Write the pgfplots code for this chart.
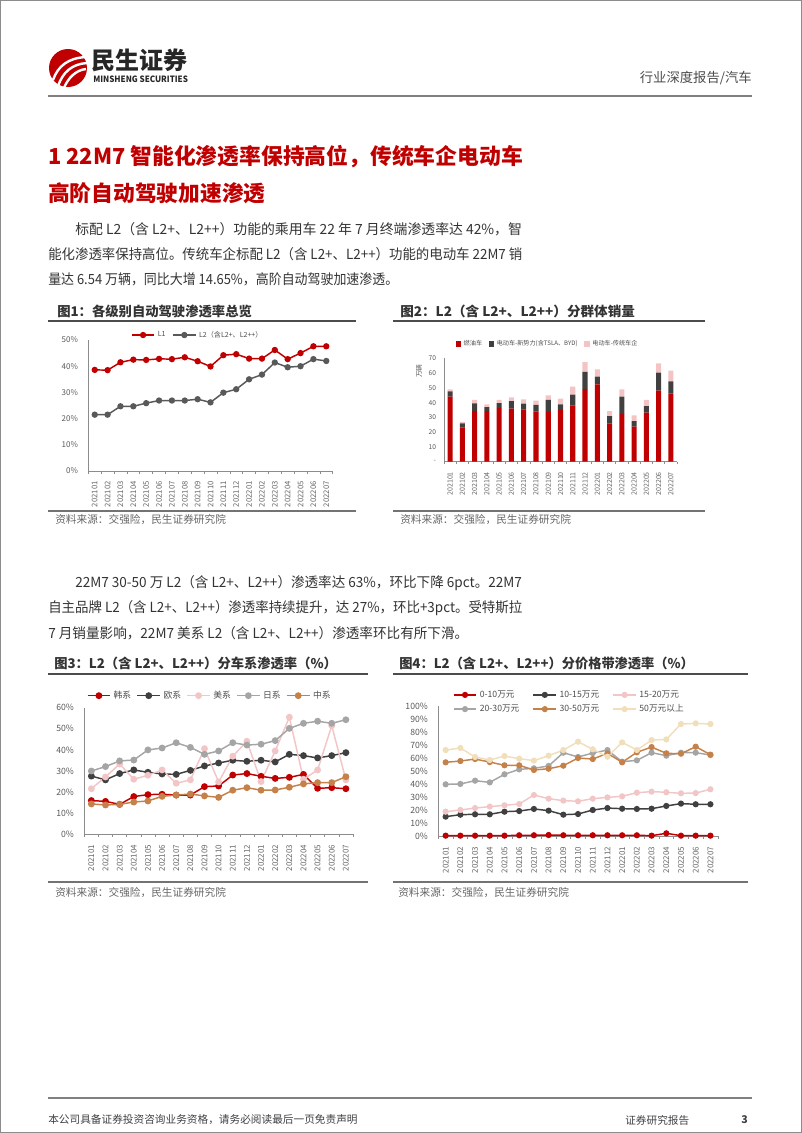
\documentclass[border=0pt]{standalone}
\usepackage{fontspec}
\setmainfont{Noto Sans CJK SC}
\usepackage{graphicx}
\usepackage{pgfplots}
\usepackage{pgfplotstable}
\pgfplotsset{compat=1.18}
\definecolor{tred}{HTML}{C00000}
\definecolor{dgray}{HTML}{404040}
\definecolor{mgray}{HTML}{595959}
\definecolor{lpink}{HTML}{F2C6C6}
\definecolor{bpink}{HTML}{F4C4C4}
\definecolor{lgray}{HTML}{A5A5A5}
\definecolor{brown}{HTML}{C5814A}
\definecolor{beige}{HTML}{F1DFBB}
\newcommand\fitw[2]{\resizebox{#1}{\height}{#2}}

\pgfplotstableread{
x fuel new trad
0 44.0 3.6 1.4
1 23.3 2.7 1.0
2 34.5 5.0 2.3
3 34.3 2.7 1.8
4 36.3 3.4 2.1
5 35.9 5.1 2.5
6 35.4 3.9 2.9
7 33.9 4.5 2.9
8 33.6 8.2 3.1
9 35.0 3.8 3.9
10 37.9 7.5 5.4
11 49.2 11.7 6.6
12 52.4 5.2 4.9
13 26.0 4.9 3.4
14 32.3 11.7 5.0
15 23.7 3.8 3.9
16 33.2 4.5 4.1
17 48.1 12.2 6.3
18 46.3 8.1 7.2
}\salestab

\pgfplotstableread{
x kr eu us jp cn
0 16.0 27.6 21.6 30.0 14.4
1 15.6 25.8 27.2 32.1 13.9
2 14.2 28.8 33.3 34.8 14.2
3 17.9 30.5 26.1 35.2 15.3
4 18.8 29.4 28.0 40.0 15.8
5 19.0 28.6 30.5 40.9 18.0
6 18.6 28.4 24.2 43.4 18.6
7 18.6 30.3 25.8 41.2 19.1
8 22.6 32.4 40.6 37.9 18.2
9 22.9 33.8 24.8 39.5 17.5
10 28.1 35.1 37.0 43.4 20.9
11 28.8 34.6 44.1 42.3 22.1
12 27.5 35.1 25.0 42.7 20.9
13 26.5 34.3 39.5 44.4 21.0
14 27.0 37.9 55.5 50.2 22.3
15 28.4 37.3 26.1 52.6 23.9
16 21.8 36.2 30.5 53.6 24.5
17 22.1 37.3 51.5 52.6 24.5
18 21.6 38.7 25.8 54.3 27.3
}\brandtab

\pgfplotstableread{
x a b c d e f
0 0.5 15.1 18.9 39.9 56.8 66.2
1 0.5 16.6 20.2 40.2 57.8 67.8
2 0.5 16.9 21.7 42.7 59.3 60.9
3 0.5 16.9 22.8 41.4 57.0 58.6
4 0.5 18.9 23.8 47.6 54.5 61.6
5 0.8 19.4 24.8 51.4 54.5 59.6
6 0.8 21.0 31.7 52.2 50.9 58.1
7 1.0 19.7 28.9 54.0 51.9 61.9
8 0.8 16.6 27.4 64.2 54.2 66.2
9 0.8 17.1 26.9 60.9 60.1 72.6
10 0.8 20.2 28.9 63.9 59.3 66.8
11 0.8 21.7 29.9 66.2 63.7 61.1
12 0.8 21.2 30.7 57.3 56.8 72.1
13 0.8 21.0 33.5 58.3 64.5 66.2
14 0.5 21.2 34.3 64.2 68.5 73.9
15 2.3 23.3 33.8 61.9 63.7 74.4
16 0.5 25.1 33.0 64.2 63.4 86.2
17 0.5 24.6 33.2 64.2 68.8 86.7
18 0.5 24.6 36.1 62.4 62.7 86.2
}\pricetab

\pgfplotsset{
  pageaxis/.style={
    scale only axis, xmin=-0.5, xmax=18.5, ymin=0,
    axis lines*=left,
    axis line style={draw=black!45, line width=0.5pt},
    tick align=outside,
    xtick={0,...,18},
    xticklabels={202101,202102,202103,202104,202105,202106,202107,202108,202109,202110,202111,202112,202201,202202,202203,202204,202205,202206,202207},
    major x tick style={draw=none},
    minor xtick={-0.5,0.5,...,18.5},
    minor tick length=2pt,
    minor tick style={draw=black!45, line width=0.4pt},
    major y tick style={draw=none},
    x tick label style={rotate=90, anchor=east, font=\fontsize{5.8}{6}\selectfont, text=black!60},
    y tick label style={font=\fontsize{6}{6}\selectfont, text=black!65},
    /pgf/number format/assume math mode=true,
    clip=false,
    legend cell align=left,
    legend style={draw=none, fill=none, inner sep=0pt, text=black!70},
  },
  lineplots/.style={every axis plot/.append style={line width=1.1pt, mark=*, mark size=1.8pt}},
}

\begin{document}
\begin{tikzpicture}
\begin{scope}[x=0.75pt,y=-0.75pt]
\path (0,0) rectangle (802,1133);
\draw[black!45, line width=0.6pt] (0.5,0.5) rectangle (801.5,1132.5);
% logo
\fill[tred] (68,68) circle (19);
\draw[white, line width=1.8pt] (53,80) .. controls (58,66) and (68,58) .. (86,57);
\draw[white, line width=1.8pt] (58,86) .. controls (63,72) and (72,64) .. (87,63);
\draw[white, line width=1.8pt] (64,88) .. controls (68,78) and (76,70) .. (86,69);
\node[anchor=west, inner sep=0, font=\fontsize{18}{18}\selectfont\bfseries, text=black!85] at (91,60) {民生证券};
\node[anchor=west, inner sep=0, text=black!85] at (93,79) {\fitw{71pt}{\fontsize{6.5}{7}\selectfont\bfseries MINSHENG SECURITIES}};
\node[anchor=east, inner sep=0, font=\fontsize{10}{10}\selectfont, text=black!70] at (752,78) {行业深度报告/汽车};
\draw[black!50, line width=1.2pt] (48,96) -- (752,96);
% title
\node[anchor=west, inner sep=0, text=tred, font=\fontsize{16.5}{17}\selectfont\bfseries] at (48,157) {\fitw{356pt}{1 22M7 智能化渗透率保持高位，传统车企电动车}};
\node[anchor=west, inner sep=0, text=tred, font=\fontsize{16.3}{17}\selectfont\bfseries] at (48,193) {高阶自动驾驶加速渗透};
% paragraphs
\begin{scope}[every node/.style={anchor=west, inner sep=0, font=\fontsize{10.5}{11}\selectfont, text=black!80}]
\node at (75,229) {\fitw{335pt}{标配 L2（含 L2+、L2++）功能的乘用车 22 年 7 月终端渗透率达 42\%，智}};
\node at (48,254) {\fitw{355.5pt}{能化渗透率保持高位。传统车企标配 L2（含 L2+、L2++）功能的电动车 22M7 销}};
\node at (48,279) {\fitw{262.5pt}{量达 6.54 万辆，同比大增 14.65\%，高阶自动驾驶加速渗透。}};
\node at (75,583) {\fitw{335pt}{22M7 30-50 万 L2（含 L2+、L2++）渗透率达 63\%，环比下降 6pct。22M7}};
\node at (48,608) {\fitw{355.5pt}{自主品牌 L2（含 L2+、L2++）渗透率持续提升，达 27\%，环比+3pct。受特斯拉}};
\node at (48,633) {\fitw{315pt}{7 月销量影响，22M7 美系 L2（含 L2+、L2++）渗透率环比有所下滑。}};
\end{scope}
% figure titles
\begin{scope}[every node/.style={anchor=west, inner sep=0, font=\fontsize{10}{10}\selectfont\bfseries, text=black!80}]
\node at (57,311) {\fitw{146pt}{图1：各级别自动驾驶渗透率总览}};
\node at (400,311) {\fitw{176pt}{图2：L2（含 L2+、L2++）分群体销量}};
\node at (54,663) {\fitw{212pt}{图3：L2（含 L2+、L2++）分车系渗透率（\%）}};
\node at (399,663) {\fitw{221pt}{图4：L2（含 L2+、L2++）分价格带渗透率（\%）}};
\end{scope}
\draw[black!70, line width=1pt] (48,321)--(356,321) (393,321)--(705,321) (48,674)--(368,674) (393,674)--(748,674);
\draw[black!55, line width=0.8pt] (48,511)--(356,511) (393,511)--(705,511) (48,882)--(368,882) (393,882)--(748,882);
\begin{scope}[every node/.style={anchor=west, inner sep=0, font=\fontsize{8}{8}\selectfont, text=black!60}]
\node at (55,520) {资料来源：交强险，民生证券研究院};
\node at (400,520) {资料来源：交强险，民生证券研究院};
\node at (55,893) {资料来源：交强险，民生证券研究院};
\node at (398,893) {资料来源：交强险，民生证券研究院};
\end{scope}
% footer
\draw[black!50, line width=0.8pt] (48,1098)--(752,1098);
\node[anchor=west, inner sep=0, font=\fontsize{8}{8}\selectfont, text=black!75] at (48,1120) {本公司具备证券投资咨询业务资格，请务必阅读最后一页免责声明};
\node[anchor=west, inner sep=0, font=\fontsize{8}{8}\selectfont, text=black!75] at (625,1120) {证券研究报告};
\node[anchor=west, inner sep=0, font=\fontsize{8}{8}\selectfont\bfseries, text=black!75] at (741,1120) {3};
\node[anchor=center, inner sep=0, rotate=90, font=\fontsize{5}{5}\selectfont, text=black!65] at (419,371) {万辆};
\coordinate (A1) at (88.3,471);
\coordinate (A2) at (444,461.7);
\coordinate (A3) at (84.3,834.3);
\coordinate (A4) at (438.3,836.3);
\end{scope}

% Chart 1
\begin{axis}[pageaxis, lineplots, at={(A1)}, anchor=south west,
  width=183.3pt, height=98.25pt, ymax=50,
  ytick={0,10,...,50}, yticklabel={\pgfmathprintnumber{\tick}\%},
  legend columns=2,
  legend style={at={(0.449,1.038)}, anchor=center, font=\fontsize{5.3}{6}\selectfont,
    /tikz/every even column/.append style={column sep=3pt}},
]
\addplot[color=tred, mark options={fill=tred}] coordinates {
(0,38.6)(1,38.5)(2,41.5)(3,42.5)(4,42.4)(5,42.8)(6,42.7)(7,43.4)(8,41.9)(9,39.9)
(10,44.2)(11,44.6)(12,42.9)(13,42.9)(14,46.2)(15,42.7)(16,45.0)(17,47.6)(18,47.6)};
\addlegendentry{L1}
\addplot[color=mgray, mark options={fill=mgray}] coordinates {
(0,21.5)(1,21.5)(2,24.7)(3,24.7)(4,25.9)(5,26.9)(6,26.9)(7,26.9)(8,27.4)(9,26.2)
(10,29.9)(11,31.2)(12,35.0)(13,36.8)(14,41.4)(15,39.6)(16,40.0)(17,42.7)(18,42.0)};
\addlegendentry{L2（含L2+、L2++）}
\end{axis}

% Chart 2
\begin{axis}[pageaxis, at={(A2)}, anchor=south west,
  width=174.75pt, height=77.55pt, ymax=70,
  ybar stacked, bar width=3.8pt,
  ytick={0,10,...,70}, yticklabels={-,10,20,30,40,50,60,70},
  y tick label style={font=\fontsize{5}{5}\selectfont, inner xsep=1.5pt},
  x tick label style={font=\fontsize{5.3}{5.5}\selectfont},
  minor tick length=1.5pt,
  legend columns=3,
  legend style={at={(0.446,1.138)}, anchor=center, font=\fontsize{4.6}{5}\selectfont,
    /tikz/every even column/.append style={column sep=3pt}},
  legend image code/.code={\fill[#1] (0pt,-2pt) rectangle (4pt,2pt);},
]
\addplot[fill=tred, draw=none] table[x=x, y=fuel] {\salestab};
\addlegendentry{燃油车}
\addplot[fill=dgray, draw=none] table[x=x, y=new] {\salestab};
\addlegendentry{电动车-新势力(含TSLA、BYD)}
\addplot[fill=bpink, draw=none] table[x=x, y=trad] {\salestab};
\addlegendentry{电动车-传统车企}
\end{axis}

% Chart 3
\begin{axis}[pageaxis, lineplots, at={(A3)}, anchor=south west,
  width=201.5pt, height=94.95pt, ymax=60,
  ytick={0,10,...,60}, yticklabel={\pgfmathprintnumber{\tick}\%},
  y tick label style={font=\fontsize{6.5}{6.5}\selectfont},
  x tick label style={font=\fontsize{6}{6}\selectfont},
  legend columns=5,
  legend style={at={(0.468,1.095)}, anchor=center, font=\fontsize{6.6}{7}\selectfont,
    /tikz/every even column/.append style={column sep=2pt}},
  every axis plot/.append style={mark size=2pt},
]
\addplot[color=tred, mark options={fill=tred}] table[x=x, y=kr] {\brandtab};
\addlegendentry{韩系}
\addplot[color=dgray, mark options={fill=dgray}] table[x=x, y=eu] {\brandtab};
\addlegendentry{欧系}
\addplot[color=lpink, mark options={fill=lpink}] table[x=x, y=us] {\brandtab};
\addlegendentry{美系}
\addplot[color=lgray, mark options={fill=lgray}] table[x=x, y=jp] {\brandtab};
\addlegendentry{日系}
\addplot[color=brown, mark options={fill=brown}] table[x=x, y=cn] {\brandtab};
\addlegendentry{中系}
\end{axis}

% Chart 4
\begin{axis}[pageaxis, lineplots, at={(A4)}, anchor=south west,
  width=209.6pt, height=97.7pt, ymax=100,
  ytick={0,10,...,100}, yticklabel={\pgfmathprintnumber{\tick}\%},
  y tick label style={font=\fontsize{6.5}{6.5}\selectfont},
  x tick label style={font=\fontsize{6}{6}\selectfont},
  legend columns=3,
  legend style={at={(0.47,1.03)}, anchor=center, font=\fontsize{6.5}{7}\selectfont,
    /tikz/every even column/.append style={column sep=8pt}},
  every axis plot/.append style={mark size=1.75pt},
]
\addplot[color=tred, mark options={fill=tred}] table[x=x, y=a] {\pricetab};
\addlegendentry{0-10万元}
\addplot[color=dgray, mark options={fill=dgray}] table[x=x, y=b] {\pricetab};
\addlegendentry{10-15万元}
\addplot[color=lpink, mark options={fill=lpink}] table[x=x, y=c] {\pricetab};
\addlegendentry{15-20万元}
\addplot[color=lgray, mark options={fill=lgray}] table[x=x, y=d] {\pricetab};
\addlegendentry{20-30万元}
\addplot[color=brown, mark options={fill=brown}] table[x=x, y=e] {\pricetab};
\addlegendentry{30-50万元}
\addplot[color=beige, mark options={fill=beige}] table[x=x, y=f] {\pricetab};
\addlegendentry{50万元以上}
\end{axis}
\end{tikzpicture}
\end{document}
